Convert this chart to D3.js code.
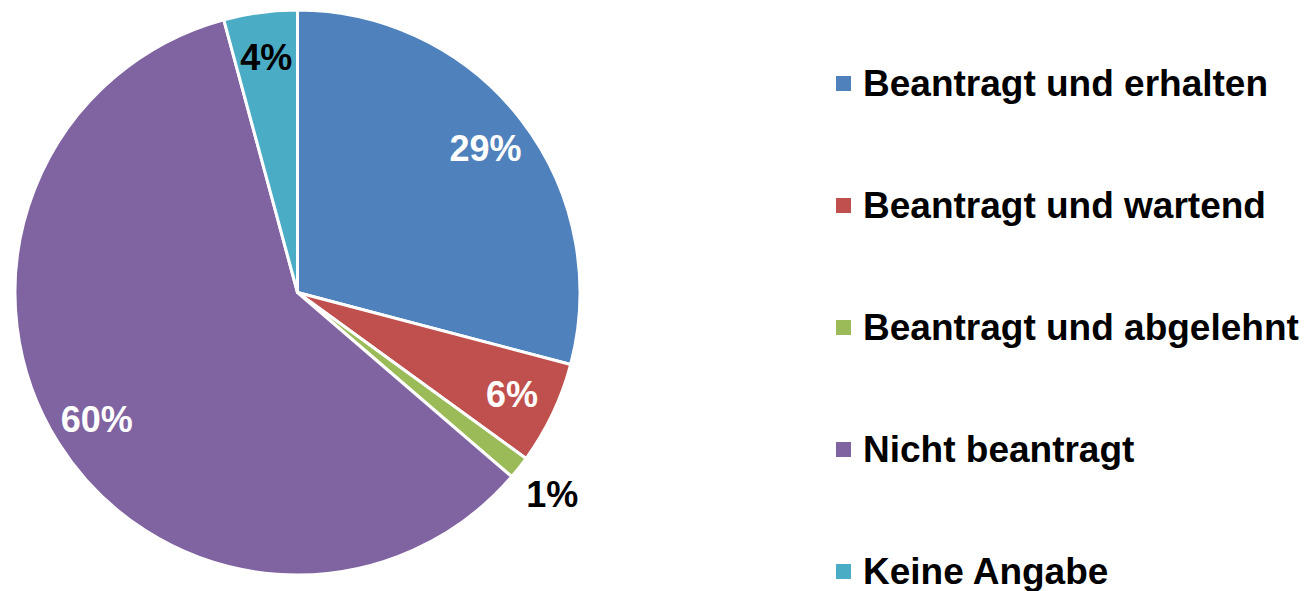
<!DOCTYPE html>
<html>
<head>
<meta charset="utf-8">
<script src="https://cdn.jsdelivr.net/npm/d3@7"></script>
<style>
  body { margin: 0; background: #fff; }
  svg { display: block; font-family: "Liberation Sans", Arial, sans-serif; }
</style>
</head>
<body>
<div id="chart"></div>
<script>
// daten
const categories = ['Beantragt und erhalten', 'Beantragt und wartend', 'Beantragt und abgelehnt', 'Nicht beantragt', 'Keine Angabe'];
const values = [29.1, 5.9, 1.3, 59.5, 4.2];
const labels = ['29%', '6%', '1%', '60%', '4%'];
const colors = ['#4F81BD', '#C0504D', '#9BBB59', '#8064A2', '#4BACC6'];

{
    let width = 1313,
        height = 591,
        cx = 297.5,
        cy = 292.5,
        radius = 282.5;

    let svg = d3.select('#chart').append('svg')
        .attr('width', width)
        .attr('height', height);

    let data = categories.map((c, i) => ({ name: c, value: values[i], label: labels[i], color: colors[i] }));

    let pie = d3.pie()
        .value(d => d.value)
        .sort(null);

    let arc = d3.arc()
        .innerRadius(0)
        .outerRadius(radius);

    let g = svg.append('g')
        .attr('transform', `translate(${cx},${cy})`);

    let arcs = pie(data);

    g.selectAll('path.slice')
        .data(arcs)
        .enter()
        .append('path')
        .attr('class', 'slice')
        .attr('d', arc)
        .attr('fill', d => d.data.color)
        .attr('stroke', '#fff')
        .attr('stroke-width', 3)
        .attr('stroke-linejoin', 'round');

    // beschriftung: kleine segmente außen
    g.selectAll('text.label')
        .data(arcs)
        .enter()
        .append('text')
        .attr('class', 'label')
        .attr('transform', d => {
            let a = (d.startAngle + d.endAngle) / 2;
            let r = d.data.value < 2 ? radius * 1.15 : radius * 0.84;
            return `translate(${Math.sin(a) * r},${-Math.cos(a) * r})`;
        })
        .attr('text-anchor', 'middle')
        .attr('dy', '0.36em')
        .attr('font-size', 36)
        .attr('font-weight', 'bold')
        .attr('fill', d => d.data.value < 5 ? '#000' : '#fff')
        .text(d => d.data.label);

    // legende
    let legend = svg.append('g')
        .attr('transform', 'translate(836,0)');

    let rowY = d3.scalePoint()
        .domain(categories)
        .range([83.5, 571.5]);

    let item = legend.selectAll('g.item')
        .data(data)
        .enter()
        .append('g')
        .attr('class', 'item')
        .attr('transform', d => `translate(0,${rowY(d.name)})`);

    item.append('rect')
        .attr('x', 0)
        .attr('y', -7.5)
        .attr('width', 15)
        .attr('height', 15)
        .attr('fill', d => d.color);

    item.append('text')
        .attr('x', 27)
        .attr('y', 12)
        .attr('font-size', 37)
        .attr('font-weight', 'bold')
        .attr('fill', '#000')
        .text(d => d.name);
}
</script>
</body>
</html>
